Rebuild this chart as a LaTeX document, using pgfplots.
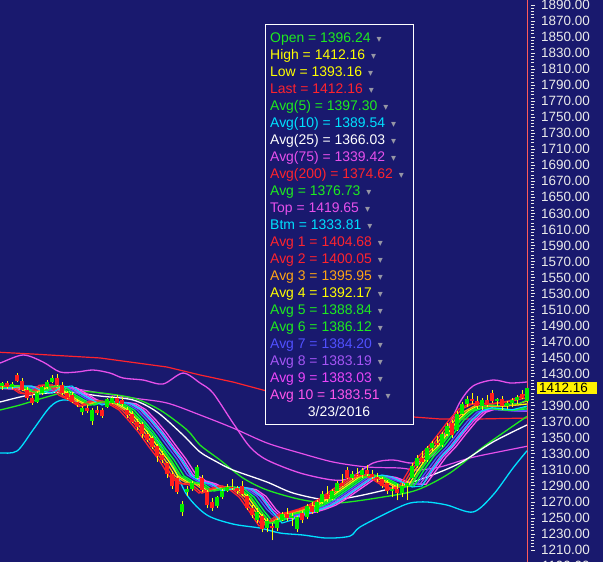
\documentclass[border=0pt]{standalone}
\usepackage{fontspec}
\setmainfont{Liberation Sans}
\newfontfamily\symfont{DejaVu Sans}
\usepackage{pgfplots}
\usepackage{pgfplotstable}
\pgfplotsset{compat=1.18}

\definecolor{bg}{RGB}{25,25,110}
\definecolor{tickc}{RGB}{235,235,235}
\definecolor{cRed}{RGB}{255,35,45}
\definecolor{cRed2}{RGB}{255,60,40}
\definecolor{cOrg}{RGB}{255,165,20}
\definecolor{cYel}{RGB}{255,255,0}
\definecolor{cGrn}{RGB}{30,235,30}
\definecolor{cGrn2}{RGB}{0,255,60}
\definecolor{cCyan}{RGB}{0,225,255}
\definecolor{cMag}{RGB}{230,80,235}
\definecolor{cBlue}{RGB}{80,80,255}
\definecolor{cPurp}{RGB}{165,85,245}
\definecolor{cMag9}{RGB}{235,70,250}
\definecolor{cPink}{RGB}{255,85,235}
\definecolor{cursor}{RGB}{255,90,90}
\definecolor{trig}{RGB}{150,150,165}
\definecolor{candG}{RGB}{0,235,0}
\definecolor{candR}{RGB}{255,30,30}
\definecolor{wick}{RGB}{255,255,0}

\newcommand\tkfont{\fontsize{13.5}{16}\selectfont}
\newcommand\lgfont{\fontsize{14}{16}\selectfont}
\newcommand\lgi[3]{\node[anchor=base west, inner sep=0pt, text=#2, font=\lgfont]
  at (270bp, 519.2bp-#1*17bp) {#3\hspace{6bp}\textcolor{trig}{\symfont\fontsize{10}{10}\selectfont ▾}};}

% candles: x open high low close
\pgfplotstableread{
x o h l c
7 1418 1421 1411 1413
17 1428 1431 1419 1421
22 1421 1424 1408 1410
27 1410 1413 1397 1400
32 1400 1403 1391 1394
57 1425 1430 1414 1416
62 1416 1419 1404 1406
67 1406 1409 1398 1400
72 1404 1407 1393 1395
77 1395 1399 1389 1391
87 1387 1391 1381 1383
97 1385 1390 1379 1381
102 1385 1387 1375 1377
117 1400 1404 1391 1393
122 1397 1401 1390 1392
127 1385 1388 1375 1378
132 1380 1383 1368 1370
137 1370 1374 1360 1363
142 1367 1370 1350 1355
147 1355 1358 1345 1347
152 1350 1352 1336 1338
157 1340 1342 1320 1327
162 1329 1333 1319 1322
167 1318 1320 1300 1305
172 1305 1308 1286 1290
177 1300 1302 1280 1282
202 1300 1303 1282 1285
207 1282 1285 1262 1266
212 1270 1275 1259 1262
232 1289 1298 1285 1287
237 1287 1290 1280 1283
242 1290 1296 1278 1280
247 1278 1280 1260 1263
252 1263 1266 1250 1254
262 1252 1255 1232 1236
272 1240 1244 1222 1237
287 1255 1262 1246 1250
302 1256 1259 1244 1247
312 1265 1270 1255 1258
327 1280 1290 1270 1274
342 1293 1305 1288 1290
347 1310 1314 1298 1300
357 1305 1312 1302 1304
367 1310 1316 1302 1305
372 1305 1310 1298 1301
377 1301 1306 1295 1298
382 1298 1301 1287 1290
387 1293 1297 1280 1283
397 1286 1292 1272 1281
422 1325 1333 1318 1320
437 1343 1352 1338 1341
452 1368 1372 1350 1353
472 1399 1406 1392 1396
477 1396 1402 1386 1390
487 1397 1403 1388 1391
492 1406 1410 1393 1396
502 1398 1402 1385 1390
522 1405 1410 1398 1400
}\redc

\pgfplotstableread{
x o h l c
2 1414 1420 1410 1418
12 1413 1419 1411 1417
37 1395 1408 1393 1406
42 1406 1415 1404 1413
47 1413 1422 1411 1420
52 1420 1428 1418 1425
82 1382 1390 1378 1387
92 1371 1387 1366 1385
107 1389 1400 1387 1398
112 1394 1402 1392 1400
182 1258 1271 1253 1268
187 1282 1290 1278 1286
192 1286 1296 1284 1293
197 1300 1316 1298 1313
217 1265 1278 1263 1276
222 1276 1286 1274 1284
227 1284 1292 1282 1289
257 1248 1262 1244 1258
267 1238 1250 1232 1246
277 1237 1250 1234 1248
282 1248 1258 1246 1255
292 1250 1256 1240 1253
297 1236 1253 1232 1251
307 1251 1268 1249 1265
317 1258 1272 1256 1270
322 1270 1283 1268 1280
332 1274 1286 1272 1284
337 1284 1296 1282 1293
352 1300 1308 1297 1305
362 1304 1312 1300 1310
392 1283 1290 1276 1286
402 1281 1294 1276 1290
407 1290 1296 1272 1293
412 1300 1318 1298 1315
417 1315 1328 1312 1325
427 1322 1340 1320 1337
432 1337 1346 1333 1343
442 1341 1357 1339 1355
447 1355 1368 1352 1365
457 1360 1383 1358 1380
462 1380 1395 1378 1392
467 1392 1402 1388 1399
482 1390 1400 1385 1397
497 1396 1400 1390 1398
507 1390 1396 1386 1393
512 1393 1400 1388 1397
517 1397 1404 1392 1401
527 1396.24 1412.16 1393.16 1412.16
}\greenc

\begin{document}
\begin{tikzpicture}
\fill[bg] (0,0) rectangle (603bp,562bp);
\begin{axis}[
    at={(0,0)}, anchor=south west,
    scale only axis, width=531bp, height=562bp,
    xmin=0, xmax=531, ymin=1195.03, ymax=1896.24,
    axis x line=none, axis y line=right,
    y axis line style={draw=none},
    ytick={1210,1230,...,1890},
    yticklabels={1210.00,1230.00,1250.00,1270.00,1290.00,1310.00,1330.00,1350.00,1370.00,1390.00,{},1430.00,1450.00,1470.00,1490.00,1510.00,1530.00,1550.00,1570.00,1590.00,1610.00,1630.00,1650.00,1670.00,1690.00,1710.00,1730.00,1750.00,1770.00,1790.00,1810.00,1830.00,1850.00,1870.00,1890.00},
    minor y tick num=4,
    tick align=outside,
    major tick length=4bp, minor tick length=3bp,
    every tick/.style={tickc, line width=0.8bp},
    yticklabel style={font=\tkfont, text=tickc, inner sep=0pt, xshift=6bp},
    clip mode=individual,
]
% cursor line at the last bar
\addplot[cursor, line width=1bp] coordinates {(527,1190) (527,1900)};

% Avg(200)
\addplot[cRed, line width=1.2bp] coordinates {
(-5,1457.0)(33,1454.5)(100,1449.6)(167,1438.3)(200,1428.4)(233,1419.6)(263,1409.6)(300,1397.2)(350,1384.7)(413,1376.0)(440,1373.5)(480,1373.5)(527,1374.62)};
% Top
\addplot[cMag, line width=1.3bp, smooth] coordinates {
(-5,1443.3)(0,1443.3)(23,1453.3)(43,1444.6)(60,1432.1)(77,1432.1)(93,1434.6)(110,1430.8)(123,1424.6)(143,1422.1)(163,1417.1)(183,1430.8)(200,1418.4)(213,1405.9)(233,1368.5)(250,1338.5)(267,1322.3)(300,1306.1)(333,1297.3)(350,1299.8)(373,1318.5)(393,1322.3)(413,1318.5)(433,1328.5)(447,1359.8)(460,1394.7)(473,1414.6)(493,1422.1)(510,1418.4)(527,1419.65)};
% Avg(75)
\addplot[cMag, line width=1.2bp, smooth] coordinates {
(-5,1412.1)(33,1409.6)(67,1412.1)(100,1405.9)(133,1399.6)(167,1393.4)(200,1378.5)(233,1362.2)(267,1343.5)(300,1331.0)(333,1319.8)(367,1313.6)(400,1312.3)(417,1309.8)(440,1313.6)(470,1324.8)(493,1331.0)(527,1339.42)};
% Btm
\addplot[cCyan, line width=1.3bp, smooth] coordinates {
(-5,1331.0)(0,1331.0)(17,1333.5)(33,1359.8)(50,1388.4)(63,1397.2)(87,1393.4)(110,1394.7)(133,1381.0)(153,1353.5)(170,1322.3)(187,1278.6)(207,1253.6)(233,1242.4)(260,1237.4)(280,1231.2)(303,1228.7)(327,1224.9)(350,1227.4)(360,1238.7)(393,1259.9)(410,1268.6)(427,1269.9)(447,1266.1)(473,1257.4)(493,1278.6)(513,1312.3)(527,1333.81)};
% Avg (band middle)
\addplot[cGrn, line width=1.3bp, smooth] coordinates {
(-5,1384.0)(0,1384.7)(20,1390.9)(43,1399.6)(67,1407.1)(93,1407.1)(133,1399.6)(160,1384.7)(187,1359.8)(200,1341.0)(220,1322.3)(243,1299.8)(267,1284.9)(303,1272.4)(337,1268.6)(383,1276.1)(417,1284.9)(450,1306.1)(483,1338.5)(527,1376.73)};
% Avg(25)
\addplot[white, line width=1.3bp, smooth] coordinates {
(-5,1394.0)(0,1394.7)(30,1403.4)(67,1407.1)(100,1402.1)(133,1397.2)(157,1382.2)(183,1353.5)(200,1332.3)(217,1319.8)(233,1309.8)(267,1294.8)(293,1281.1)(327,1272.4)(353,1276.1)(393,1287.4)(427,1301.1)(460,1318.5)(493,1344.8)(527,1366.03)};

% ribbon Avg 10 ... Avg 1
\addplot[cPink, line width=1.3bp] coordinates {
(-20,1412.1)(16,1412.1)(26,1413.5)(36,1413.5)(46,1410.5)(56,1408.5)(66,1412)(76,1412.5)(86,1405.5)(96,1398)(106,1392.5)(116,1393.5)(126,1394)(136,1392.5)(146,1385)(156,1372)(166,1357)(176,1340)(186,1323.5)(196,1304)(206,1296)(216,1292.5)(226,1286)(236,1286.5)(246,1287.5)(256,1285.5)(266,1277)(276,1260.5)(286,1249)(296,1250)(306,1254.5)(316,1257.4)(326,1261.2)(336,1266.1)(346,1273.6)(356,1282.4)(366,1291.1)(376,1299.8)(386,1302.5)(396,1300.5)(406,1296)(416,1292)(426,1292)(436,1309)(446,1326)(456,1339)(466,1355)(476,1370)(486,1382)(496,1386)(506,1385)(516,1384)(527,1383.51)};
\addplot[cMag9, line width=1.3bp] coordinates {
(-20,1412.1)(13,1412.1)(23,1413.5)(33,1413.5)(43,1410.5)(53,1408.5)(63,1412)(73,1412.5)(83,1405.5)(93,1398)(103,1392.5)(113,1393.5)(123,1394)(133,1392.5)(143,1385)(153,1372)(163,1357)(173,1340)(183,1323.5)(193,1304)(203,1296)(213,1292.5)(223,1286)(233,1286.5)(243,1287.5)(253,1285.5)(263,1277)(273,1260.5)(283,1249)(293,1250)(303,1254.5)(313,1257.4)(323,1261.2)(333,1266.1)(343,1273.6)(353,1282.4)(363,1291.1)(373,1299.8)(383,1302.5)(393,1300.5)(403,1296)(413,1292)(423,1292)(433,1309)(443,1326)(453,1339)(463,1355)(473,1370)(483,1382)(493,1386)(503,1385)(513,1384)(523,1383.5)(527,1383.03)};
\addplot[cPurp, line width=1.3bp] coordinates {
(-20,1412.1)(10,1412.1)(20,1413.5)(30,1413.5)(40,1410.5)(50,1408.5)(60,1412)(70,1412.5)(80,1405.5)(90,1398)(100,1392.5)(110,1393.5)(120,1394)(130,1392.5)(140,1385)(150,1372)(160,1357)(170,1340)(180,1323.5)(190,1304)(200,1296)(210,1292.5)(220,1286)(230,1286.5)(240,1287.5)(250,1285.5)(260,1277)(270,1260.5)(280,1249)(290,1250)(300,1254.5)(310,1257.4)(320,1261.2)(330,1266.1)(340,1273.6)(350,1282.4)(360,1291.1)(370,1299.8)(380,1302.5)(390,1300.5)(400,1296)(410,1292)(420,1292)(430,1309)(440,1326)(450,1339)(460,1355)(470,1370)(480,1382)(490,1386)(500,1385)(510,1384)(520,1383.5)(527,1383.19)};
\addplot[cBlue, line width=1.3bp] coordinates {
(-20,1412.1)(7,1412.1)(17,1413.5)(27,1413.5)(37,1410.5)(47,1408.5)(57,1412)(67,1412.5)(77,1405.5)(87,1398)(97,1392.5)(107,1393.5)(117,1394)(127,1392.5)(137,1385)(147,1372)(157,1357)(167,1340)(177,1323.5)(187,1304)(197,1296)(207,1292.5)(217,1286)(227,1286.5)(237,1287.5)(247,1285.5)(257,1277)(267,1260.5)(277,1249)(287,1250)(297,1254.5)(307,1257.4)(317,1261.2)(327,1266.1)(337,1273.6)(347,1282.4)(357,1291.1)(367,1299.8)(377,1302.5)(387,1300.5)(397,1296)(407,1292)(417,1292)(427,1309)(437,1326)(447,1339)(457,1355)(467,1370)(477,1382)(487,1386)(497,1385)(507,1384)(517,1383.5)(527,1384.20)};
\addplot[cGrn2, line width=1.3bp] coordinates {
(-20,1412.1)(4,1412.1)(14,1414.6)(24,1414.6)(34,1408.4)(44,1405.9)(54,1413.4)(64,1414.6)(74,1404.6)(84,1397.2)(94,1390.9)(104,1394.7)(114,1394.7)(124,1392.2)(134,1384.7)(144,1371.0)(154,1356.0)(164,1338.5)(174,1322.3)(184,1302.3)(194,1294.8)(204,1292.3)(214,1283.6)(224,1286.1)(234,1288.6)(244,1286.1)(254,1276.1)(264,1258.6)(274,1243.6)(284,1247.4)(294,1254.9)(304,1257.4)(314,1261.2)(324,1266.1)(334,1273.6)(344,1282.4)(354,1291.1)(364,1299.8)(374,1303.6)(384,1301.1)(394,1294.8)(404,1288.6)(414,1289.9)(424,1309.8)(434,1327.3)(444,1339.8)(454,1356.0)(464,1372.2)(474,1383.4)(484,1387.5)(494,1386.5)(504,1385.0)(514,1384.5)(527,1386.12)};
\addplot[cGrn, line width=1.3bp] coordinates {
(-20,1412.1)(1,1412.1)(11,1414.6)(21,1414.6)(31,1408.4)(41,1405.9)(51,1413.4)(61,1414.6)(71,1404.6)(81,1397.2)(91,1390.9)(101,1394.7)(111,1394.7)(121,1392.2)(131,1384.7)(141,1371.0)(151,1356.0)(161,1338.5)(171,1322.3)(181,1302.3)(191,1294.8)(201,1292.3)(211,1283.6)(221,1286.1)(231,1288.6)(241,1286.1)(251,1276.1)(261,1258.6)(271,1243.6)(281,1247.4)(291,1254.9)(301,1257.4)(311,1261.2)(321,1266.1)(331,1273.6)(341,1282.4)(351,1291.1)(361,1299.8)(371,1303.6)(381,1301.1)(391,1294.8)(401,1288.6)(411,1289.9)(421,1309.8)(431,1327.3)(441,1339.8)(451,1356.0)(461,1372.2)(471,1383.4)(481,1387.5)(491,1386.5)(501,1385.0)(511,1384.5)(521,1386.0)(527,1388.84)};
\addplot[cYel, line width=1.3bp] coordinates {
(-20,1412.1)(-2,1412.1)(8,1414.6)(18,1414.6)(28,1408.4)(38,1405.9)(48,1413.4)(58,1414.6)(68,1404.6)(78,1397.2)(88,1390.9)(98,1394.7)(108,1394.7)(118,1392.2)(128,1384.7)(138,1371.0)(148,1356.0)(158,1338.5)(168,1322.3)(178,1302.3)(188,1294.8)(198,1292.3)(208,1283.6)(218,1286.1)(228,1288.6)(238,1286.1)(248,1276.1)(258,1258.6)(268,1243.6)(278,1247.4)(288,1254.9)(298,1257.4)(308,1261.2)(318,1266.1)(328,1273.6)(338,1282.4)(348,1291.1)(358,1299.8)(368,1303.6)(378,1301.1)(388,1294.8)(398,1288.6)(408,1289.9)(418,1309.8)(428,1327.3)(438,1339.8)(448,1356.0)(458,1372.2)(468,1383.4)(478,1390)(488,1390)(498,1389)(508,1390)(518,1391)(527,1392.17)};
\addplot[cOrg, line width=1.3bp] coordinates {
(-20,1412.1)(-5,1412.1)(5,1414.6)(15,1414.6)(25,1408.4)(35,1405.9)(45,1413.4)(55,1414.6)(65,1404.6)(75,1397.2)(85,1390.9)(95,1394.7)(105,1394.7)(115,1392.2)(125,1384.7)(135,1371.0)(145,1356.0)(155,1338.5)(165,1322.3)(175,1302.3)(185,1294.8)(195,1292.3)(205,1283.6)(215,1286.1)(225,1288.6)(235,1286.1)(245,1276.1)(255,1258.6)(265,1243.6)(275,1247.4)(285,1254.9)(295,1257.4)(305,1261.2)(315,1266.1)(325,1273.6)(335,1282.4)(345,1291.1)(355,1299.8)(365,1303.6)(375,1301.1)(385,1294.8)(395,1288.6)(405,1289.9)(415,1309.8)(425,1327.3)(435,1339.8)(445,1356.0)(455,1372.2)(465,1383.4)(475,1390)(485,1390)(495,1389)(505,1390)(515,1391)(527,1395.95)};
\addplot[cRed2, line width=1.3bp] coordinates {
(-20,1412.1)(-8,1412.1)(2,1414.6)(12,1414.6)(22,1406)(32,1404)(42,1415.5)(52,1416)(62,1403)(72,1397.2)(82,1389)(92,1395.5)(102,1396)(112,1392)(122,1384.7)(132,1371.0)(142,1356.0)(152,1338.5)(162,1322.3)(172,1302.3)(182,1293)(192,1291.5)(202,1281)(212,1286)(222,1290)(232,1286)(242,1276.1)(252,1258.6)(262,1240)(272,1246)(282,1254.9)(292,1257.4)(302,1261.2)(312,1266.1)(322,1273.6)(332,1282.4)(342,1291.1)(352,1299.8)(362,1303.6)(372,1301)(382,1293)(392,1286)(402,1289)(412,1309.8)(422,1327.3)(432,1339.8)(442,1356.0)(452,1372.2)(462,1386)(472,1392)(482,1393)(492,1392)(502,1394)(512,1396)(527,1400.05)};
\addplot[cRed, line width=1.3bp] coordinates {
(-20,1412.1)(-11,1412.1)(-1,1414.6)(9,1414.6)(19,1406)(29,1404)(39,1415.5)(49,1416)(59,1403)(69,1397.2)(79,1389)(89,1395.5)(99,1396)(109,1392)(119,1384.7)(129,1371.0)(139,1356.0)(149,1338.5)(159,1322.3)(169,1302.3)(179,1293)(189,1291.5)(199,1281)(209,1286)(219,1290)(229,1286)(239,1276.1)(249,1258.6)(259,1240)(269,1246)(279,1254.9)(289,1257.4)(299,1261.2)(309,1266.1)(319,1273.6)(329,1282.4)(339,1291.1)(349,1299.8)(359,1303.6)(369,1301)(379,1293)(389,1286)(399,1289)(409,1309.8)(419,1327.3)(429,1339.8)(439,1356.0)(449,1372.2)(459,1386)(469,1392)(479,1393)(489,1392)(499,1394)(509,1396)(527,1404.68)};
% Avg(10) and Avg(5)
\addplot[cCyan, line width=1.1bp] coordinates {
(-20,1412.1)(12,1412.1)(22,1414.6)(32,1414.6)(42,1408.4)(52,1405.9)(62,1413.4)(72,1414.6)(82,1404.6)(92,1397.2)(102,1390.9)(112,1394.7)(122,1394.7)(132,1392.2)(142,1384.7)(152,1371.0)(162,1356.0)(172,1338.5)(182,1322.3)(192,1302.3)(202,1294.8)(212,1292.3)(222,1283.6)(232,1286.1)(242,1288.6)(252,1286.1)(262,1276.1)(272,1258.6)(282,1243.6)(292,1247.4)(302,1254.9)(312,1257.4)(322,1261.2)(332,1266.1)(342,1273.6)(352,1282.4)(362,1291.1)(372,1299.8)(382,1303.6)(392,1301.1)(402,1294.8)(412,1288.6)(422,1289.9)(432,1309.8)(442,1327.3)(452,1339.8)(462,1356.0)(472,1372.2)(482,1383.4)(492,1387.5)(502,1386.5)(512,1385.0)(527,1389.54)};
\addplot[cGrn, line width=1.1bp] coordinates {
(-20,1412.1)(0,1412.1)(10,1414.6)(20,1414.6)(30,1408.4)(40,1405.9)(50,1413.4)(60,1414.6)(70,1404.6)(80,1397.2)(90,1390.9)(100,1394.7)(110,1394.7)(120,1392.2)(130,1384.7)(140,1371.0)(150,1356.0)(160,1338.5)(170,1322.3)(180,1302.3)(190,1294.8)(200,1292.3)(210,1283.6)(220,1286.1)(230,1288.6)(240,1286.1)(250,1276.1)(260,1258.6)(270,1243.6)(280,1247.4)(290,1254.9)(300,1257.4)(310,1261.2)(320,1266.1)(330,1273.6)(340,1282.4)(350,1291.1)(360,1299.8)(370,1303.6)(380,1301.1)(390,1294.8)(400,1288.6)(410,1289.9)(420,1309.8)(430,1327.3)(440,1339.8)(450,1356.0)(460,1372.2)(470,1383.4)(480,1390)(490,1391)(500,1390)(510,1392)(520,1393)(527,1397.30)};

% candles: wicks, then bodies
\addplot[draw=none, mark=none, error bars/.cd, y dir=plus, y explicit, error mark=none,
  error bar style={draw=wick, line width=1bp}]
  table[x=x, y=l, y error expr=\thisrow{h}-\thisrow{l}] {\redc};
\addplot[draw=none, mark=none, error bars/.cd, y dir=plus, y explicit, error mark=none,
  error bar style={draw=wick, line width=1bp}]
  table[x=x, y=l, y error expr=\thisrow{h}-\thisrow{l}] {\greenc};
\addplot[draw=none, mark=none, error bars/.cd, y dir=plus, y explicit, error mark=none,
  error bar style={draw=candR, line width=4bp}]
  table[x=x, y=c, y error expr=\thisrow{o}-\thisrow{c}] {\redc};
\addplot[draw=none, mark=none, error bars/.cd, y dir=plus, y explicit, error mark=none,
  error bar style={draw=candG, line width=4bp}]
  table[x=x, y=o, y error expr=\thisrow{c}-\thisrow{o}] {\greenc};

\coordinate (lastp) at (axis cs:531,1412.16);
\end{axis}

% data window
\draw[white, line width=1bp, fill=bg] (265bp,137bp) rectangle (413bp,537bp);
\lgi{0}{cGrn}{Open = 1396.24}
\lgi{1}{cYel}{High = 1412.16}
\lgi{2}{cYel}{Low = 1393.16}
\lgi{3}{cRed}{Last = 1412.16}
\lgi{4}{cGrn}{Avg(5) = 1397.30}
\lgi{5}{cCyan}{Avg(10) = 1389.54}
\lgi{6}{white}{Avg(25) = 1366.03}
\lgi{7}{cMag}{Avg(75) = 1339.42}
\lgi{8}{cRed}{Avg(200) = 1374.62}
\lgi{9}{cGrn}{Avg = 1376.73}
\lgi{10}{cMag}{Top = 1419.65}
\lgi{11}{cCyan}{Btm = 1333.81}
\lgi{12}{cRed}{Avg 1 = 1404.68}
\lgi{13}{cRed}{Avg 2 = 1400.05}
\lgi{14}{cOrg}{Avg 3 = 1395.95}
\lgi{15}{cYel}{Avg 4 = 1392.17}
\lgi{16}{cGrn}{Avg 5 = 1388.84}
\lgi{17}{cGrn}{Avg 6 = 1386.12}
\lgi{18}{cBlue}{Avg 7 = 1384.20}
\lgi{19}{cPurp}{Avg 8 = 1383.19}
\lgi{20}{cMag9}{Avg 9 = 1383.03}
\lgi{21}{cPink}{Avg 10 = 1383.51}
\node[anchor=base, inner sep=0pt, text=white, font=\lgfont] at (339bp,145.2bp) {3/23/2016};

% last price marker on the scale
\node[fill=yellow, text=black, anchor=west, font=\tkfont, inner xsep=2bp, inner ysep=1bp,
  text width=56bp, minimum height=12.5bp, align=left] at ([xshift=6bp]lastp) {1412.16};
\node[anchor=west, inner sep=0pt, text=tickc, font=\tkfont] at (541.7bp,-4bp) {1190.00};

\pgfresetboundingbox
\path[use as bounding box] (0,0) rectangle (603bp,562bp);
\end{tikzpicture}
\end{document}
